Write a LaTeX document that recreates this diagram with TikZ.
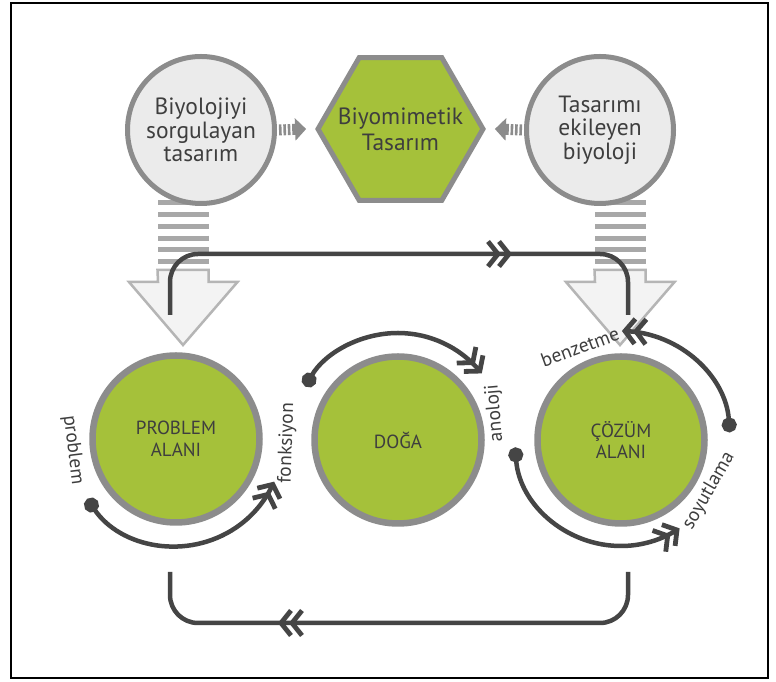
\documentclass[tikz,border=0pt]{standalone}
\usepackage{fontspec}
\setmainfont{PT Sans}
\usetikzlibrary{arrows.meta,calc,shapes.geometric,decorations.markings}

\definecolor{leaf}{HTML}{A5C13A}
\definecolor{rim}{HTML}{8C8C8C}
\definecolor{mist}{HTML}{EBEBEB}
\definecolor{ink}{HTML}{454545}
\definecolor{txt}{HTML}{3E3E3E}
\definecolor{bars}{HTML}{A8A8A8}
\definecolor{hollow}{HTML}{F3F3F3}
\definecolor{hollowrim}{HTML}{B5B5B5}

\begin{document}
\begin{tikzpicture}[
  x=1pt, y=1pt,
  every node/.style={text=txt},
  chevron/.style={ink, line width=4.8pt, line join=miter, sharp corners, -},
  twinmark/.style={postaction={decorate, decoration={markings,
    mark=at position #1 with {
      \draw[chevron] (-10pt,-12.5pt) -- (0pt,0pt) -- (-10pt,12.5pt);
      \draw[chevron] (-21pt,-12.5pt) -- (-11pt,0pt) -- (-21pt,12.5pt);}}}},
  question/.style={circle, draw=rim, fill=mist, line width=5pt, minimum size=147pt,
    inner sep=0pt, align=center, font=\fontsize{23.5}{23.5}\selectfont},
  core/.style={regular polygon, regular polygon sides=6, draw=rim, fill=leaf, line width=5pt,
    minimum size=165pt, inner sep=0pt},
  coretext/.style={align=center, inner sep=0pt, font=\fontsize{23.5}{26}\selectfont},
  field/.style={circle, draw=rim, fill=leaf, line width=6.5pt, minimum size=167pt,
    inner sep=0pt, align=center, font=\fontsize{19}{21.5}\selectfont},
  turn/.style={ink, line width=4.5pt, {Circle[length=15pt]}-, twinmark=0.999},
  link/.style={ink, line width=4.5pt, rounded corners=28pt},
  tag/.style={font=\fontsize{19.5}{19.5}\selectfont, inner sep=0pt},
  smallarrow/.style={rim, line width=11pt,
    dash pattern=on 2.6pt off 1.8pt on 2.6pt off 1.8pt on 2.6pt off 1.8pt on 40pt off 0pt,
    -{Triangle[length=11pt,width=22pt]}},
  hollowarrow/.style={fill=hollow, draw=hollowrim, line width=2.5pt, line join=miter}
]

\fill[white] (0,0) rectangle (776,682);
\useasboundingbox (0,0) rectangle (776,682);
\draw[line width=2pt] (11,4) rectangle (768,679);

% ------------------------------------------------------------
% striped shafts and hollow arrow heads
% ------------------------------------------------------------
\foreach \cx in {183,620} {
  \draw[bars, line width=51pt, dash pattern=on 5pt off 6.7pt] (\cx,481.5) -- (\cx,410);
}

% top row
\node[question] (sorgu) at (201,552) {Biyolojiyi\\sorgulayan\\tasarım};
\node[core] (biyo) at (400.5,553) {};
\node[coretext] (biyotext) at (biyo.center) {Biyomimetik\\Tasarım};
\node[question] (ekile) at (600,552) {Tasarımı\\ekileyen\\biyoloji};

\draw[smallarrow] ($(sorgu.east)+(2,0)$) -- ($(biyo.corner 3)+(-9,0)$);
\draw[smallarrow] ($(ekile.west)+(-2,0)$) -- ($(biyo.corner 6)+(9,0)$);

\foreach \cx in {183,620} {
  \draw[hollowarrow] (\cx-25.5,412) -- ++(51,0) -- ++(0,-12) -- ++(29,0)
    -- (\cx,337) -- ++(-54,63) -- ++(29,0) -- cycle;
}

% ------------------------------------------------------------
% loop between problem and solution
% ------------------------------------------------------------
\coordinate (ptop) at (170,367);
\coordinate (ctop) at (628,367);
\coordinate (pbot) at (170,110);
\coordinate (cbot) at (628,110);

\draw[link, twinmark=388pt] (ptop) -- ++(0,61) -| (ctop);
\draw[link, twinmark=386pt] (cbot) -- ++(0,-51) -| (pbot);

% bottom row
\node[field] (problem) at (176,243) {PROBLEM\\ALANI};
\node[field] (doga) at (398,242) {DOĞA};
\node[field] (cozum) at (621,242) {ÇÖZÜM\\ALANI};

% arcs around the circles
\draw[turn] ([shift=(214:107)]problem.center) arc[start angle=214, end angle=335, radius=107];
\draw[turn] ([shift=(150:107)]doga.center) arc[start angle=150, end angle=40, radius=107];
\draw[turn] ([shift=(184:106)]cozum.center) arc[start angle=184, end angle=302, radius=106];
\draw[turn] ([shift=(4:109)]cozum.center) arc[start angle=4, end angle=88, radius=109];

% labels
\node[tag, rotate=-83] (lblproblem) at (73,232) {problem};
\node[tag, rotate=88] (lblfonk) at (287,239) {fonksiyon};
\node[tag, rotate=95] (lblano) at (495,269) {anoloji};
\node[tag, rotate=20] (lblbenz) at (580,335) {benzetme};
\node[tag, rotate=60] (lblsoy) at (709,191) {soyutlama};

\end{tikzpicture}
\end{document}
